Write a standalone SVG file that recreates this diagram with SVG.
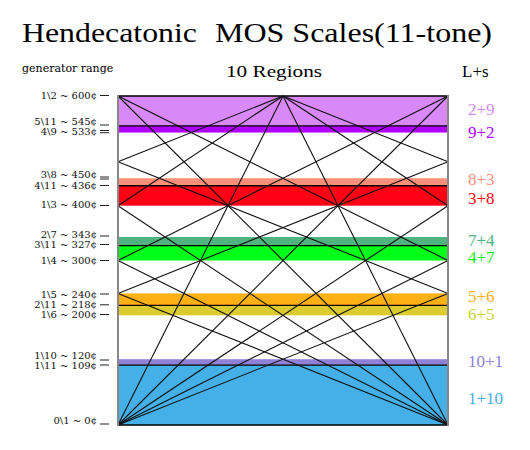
<svg xmlns="http://www.w3.org/2000/svg" width="530" height="450" viewBox="0 0 530 450">
<style>
.title{font-family:"Liberation Serif","Times New Roman",serif;font-size:27px;fill:#000}
.hdr{font-family:"Liberation Serif","Times New Roman",serif;font-size:17px;fill:#000}
.sm{font-family:"DejaVu Serif",serif;font-size:11px;fill:#000}
.gl{font-family:"DejaVu Serif",serif;font-size:10px;fill:#111;text-anchor:end}
.tick{stroke:#222;stroke-width:1}
.rl{font-family:"Liberation Serif","Times New Roman",serif;font-size:17px}
.hl{stroke:#000;stroke-width:1.3}
.bd{stroke:#888;stroke-width:2}
#connectors line{stroke:#111;stroke-width:1.1}
</style>
<rect width="530" height="450" fill="#fff"/>
<g id="title">
<text class="title" x="22" y="42" textLength="175" lengthAdjust="spacingAndGlyphs">Hendecatonic</text>
<text class="title" x="215" y="42" textLength="277" lengthAdjust="spacingAndGlyphs">MOS Scales(11-tone)</text>
</g>
<g id="headers">
<text class="sm" x="22" y="72">generator range</text>
<text class="hdr" x="226" y="77" textLength="96" lengthAdjust="spacingAndGlyphs">10 Regions</text>
<text class="hdr" x="462" y="77">L+s</text>
</g>
<g id="bands">
<rect id="band-2-9" x="118" y="96" width="330" height="29.91" fill="#d888f8"/>
<rect id="band-9-2" x="118" y="125.91" width="330" height="6.65" fill="#b000ff"/>
<rect id="band-8-3" x="118" y="178.25" width="330" height="7.48" fill="#ff8f78"/>
<rect id="band-3-8" x="118" y="185.73" width="330" height="19.94" fill="#ff0015"/>
<rect id="band-7-4" x="118" y="237" width="330" height="8.55" fill="#4fb37f"/>
<rect id="band-4-7" x="118" y="245.55" width="330" height="14.95" fill="#00ff18"/>
<rect id="band-5-6" x="118" y="293.4" width="330" height="11.96" fill="#ffb015"/>
<rect id="band-6-5" x="118" y="305.36" width="330" height="9.97" fill="#dbcb2e"/>
<rect id="band-10-1" x="118" y="359.2" width="330" height="5.98" fill="#8f80d8"/>
<rect id="band-1-10" x="118" y="365.18" width="330" height="59.82" fill="#45b0e8"/>
</g>
<g id="edo-lines">
<line class="hl" x1="118" y1="96" x2="448" y2="96"/>
<line class="hl" x1="118" y1="125.91" x2="448" y2="125.91"/>
<line class="hl" x1="118" y1="185.73" x2="448" y2="185.73"/>
<line class="hl" x1="118" y1="245.55" x2="448" y2="245.55"/>
<line class="hl" x1="118" y1="305.36" x2="448" y2="305.36"/>
<line class="hl" x1="118" y1="365.18" x2="448" y2="365.18"/>
<line class="hl" x1="118" y1="425" x2="448" y2="425"/>
</g>
<g id="connectors">
<line x1="118" y1="425" x2="283" y2="96"/>
<line x1="118" y1="425" x2="448" y2="96"/>
<line x1="118" y1="425" x2="448" y2="205.67"/>
<line x1="118" y1="205.67" x2="283" y2="96"/>
<line x1="118" y1="425" x2="448" y2="260.5"/>
<line x1="118" y1="260.5" x2="448" y2="96"/>
<line x1="118" y1="425" x2="448" y2="293.4"/>
<line x1="118" y1="293.4" x2="448" y2="161.8"/>
<line x1="118" y1="161.8" x2="283" y2="96"/>
<line x1="448" y1="425" x2="283" y2="96"/>
<line x1="448" y1="425" x2="118" y2="96"/>
<line x1="448" y1="425" x2="118" y2="205.67"/>
<line x1="448" y1="205.67" x2="283" y2="96"/>
<line x1="448" y1="425" x2="118" y2="260.5"/>
<line x1="448" y1="260.5" x2="118" y2="96"/>
<line x1="448" y1="425" x2="118" y2="293.4"/>
<line x1="448" y1="293.4" x2="118" y2="161.8"/>
<line x1="448" y1="161.8" x2="283" y2="96"/>
</g>
<g id="borders">
<line class="bd" x1="118" y1="95" x2="118" y2="426"/>
<line class="bd" x1="448" y1="95" x2="448" y2="426"/>
</g>
<g id="generator-labels">
<g id="g-1-2"><text class="gl" x="97" y="98.6">1\2 ~ 600¢</text><line class="tick" x1="100" y1="95.5" x2="109" y2="95.5"/></g>
<g id="g-5-11"><text class="gl" x="97" y="125">5\11 ~ 545¢</text><line class="tick" x1="100" y1="125" x2="109" y2="125"/></g>
<g id="g-4-9"><text class="gl" x="97" y="135.2">4\9 ~ 533¢</text><line class="tick" x1="100" y1="130.5" x2="109" y2="130.5"/><line class="tick" x1="100" y1="132.7" x2="109" y2="132.7"/></g>
<g id="g-3-8"><text class="gl" x="97" y="177.8">3\8 ~ 450¢</text><line class="tick" x1="100" y1="177" x2="109" y2="177"/><line class="tick" x1="100" y1="179" x2="109" y2="179"/></g>
<g id="g-4-11"><text class="gl" x="97" y="188.6">4\11 ~ 436¢</text><line class="tick" x1="100" y1="185.5" x2="109" y2="185.5"/></g>
<g id="g-1-3"><text class="gl" x="97" y="207.6">1\3 ~ 400¢</text><line class="tick" x1="100" y1="205.5" x2="109" y2="205.5"/></g>
<g id="g-2-7"><text class="gl" x="97" y="238">2\7 ~ 343¢</text><line class="tick" x1="100" y1="236" x2="109" y2="236"/></g>
<g id="g-3-11"><text class="gl" x="97" y="247.8">3\11 ~ 327¢</text><line class="tick" x1="100" y1="244.5" x2="109" y2="244.5"/></g>
<g id="g-1-4"><text class="gl" x="97" y="263.8">1\4 ~ 300¢</text><line class="tick" x1="100" y1="260.5" x2="109" y2="260.5"/></g>
<g id="g-1-5"><text class="gl" x="97" y="297.5">1\5 ~ 240¢</text><line class="tick" x1="100" y1="294" x2="109" y2="294"/></g>
<g id="g-2-11"><text class="gl" x="97" y="308">2\11 ~ 218¢</text><line class="tick" x1="100" y1="304.8" x2="109" y2="304.8"/></g>
<g id="g-1-6"><text class="gl" x="97" y="318">1\6 ~ 200¢</text><line class="tick" x1="100" y1="314.5" x2="109" y2="314.5"/></g>
<g id="g-1-10"><text class="gl" x="97" y="359.2">1\10 ~ 120¢</text><line class="tick" x1="100" y1="360" x2="109" y2="360"/></g>
<g id="g-1-11"><text class="gl" x="97" y="368.8">1\11 ~ 109¢</text><line class="tick" x1="100" y1="365" x2="109" y2="365"/></g>
<g id="g-0-1"><text class="gl" x="97" y="424">0\1 ~ 0¢</text><line class="tick" x1="100" y1="424" x2="109" y2="424"/></g>
</g>
<g id="mos-labels">
<text class="rl" x="468" y="115.2" fill="#d98af5">2+9</text>
<text class="rl" x="468" y="137.6" fill="#b000ff">9+2</text>
<text class="rl" x="468" y="185.2" fill="#ff8f78">8+3</text>
<text class="rl" x="468" y="204.2" fill="#ff0015">3+8</text>
<text class="rl" x="468" y="245.7" fill="#4fb37f">7+4</text>
<text class="rl" x="468" y="262.8" fill="#00ee18">4+7</text>
<text class="rl" x="468" y="302.4" fill="#ffb015">5+6</text>
<text class="rl" x="468" y="320.4" fill="#c9d433">6+5</text>
<text class="rl" x="468" y="366.9" fill="#8f80d8">10+1</text>
<text class="rl" x="468" y="403.6" fill="#45b0e8">1+10</text>
</g>
</svg>
